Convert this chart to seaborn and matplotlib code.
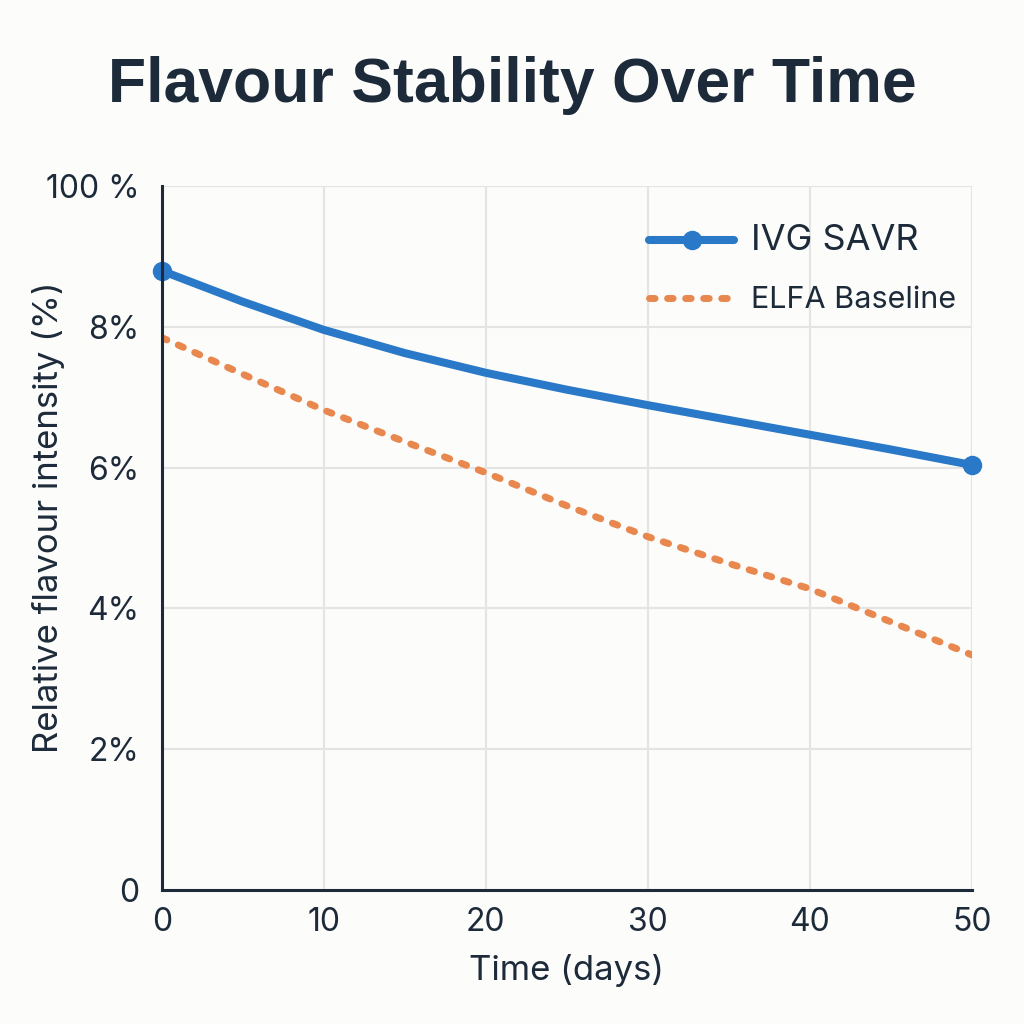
import matplotlib
matplotlib.use("Agg")
import matplotlib.pyplot as plt
import seaborn as sns

days = [0, 5, 10, 15, 20, 25, 30, 35, 40, 45, 50]
ivg_savr = [88.0, 83.6, 79.6, 76.3, 73.5, 71.1, 68.9, 66.8, 64.7, 62.6, 60.4]
elfa_baseline = [78.5, 73.3, 68.2, 63.7, 59.3, 54.6, 50.2, 46.4, 42.8, 38.1, 33.4]

y_ticks = [0, 20, 40, 60, 80, 100]
y_tick_labels = ["0", "2%", "4%", "6%", "8%", "100 %"]
x_ticks = [0, 10, 20, 30, 40, 50]

bg = "#fcfcfa"
ink = "#1c2a3a"
blue = "#2a78c8"
orange = "#e8884e"
dots = (0, (0.8, 1.8))

sns.set_theme(style="whitegrid")
plt.rcParams["font.family"] = ["Inter", "DejaVu Sans"]

fig = plt.figure(figsize=(10.24, 10.24), dpi=100, facecolor=bg)
ax = fig.add_axes([0.158, 0.131, 0.791, 0.687])
ax.set_facecolor(bg)

sns.lineplot(x=days, y=ivg_savr, ax=ax, color=blue, linewidth=5.8,
             marker="o", markersize=14, markevery=[0, len(days) - 1],
             markeredgewidth=0, label="IVG SAVR", clip_on=False,
             solid_capstyle="round", zorder=3)
sns.lineplot(x=days, y=elfa_baseline, ax=ax, color=orange, linewidth=5.0,
             label="ELFA Baseline", zorder=3)
ax.lines[1].set_linestyle(dots)
ax.lines[1].set_dash_capstyle("round")

ax.set_xlim(0, 50)
ax.set_ylim(0, 100)
ax.set_xticks(x_ticks)
ax.set_yticks(y_ticks)
ax.set_yticklabels(y_tick_labels)
ax.tick_params(axis="both", length=0, labelsize=23, labelcolor=ink)
ax.tick_params(axis="y", pad=16)
ax.tick_params(axis="x", pad=12)

ax.grid(True, color="#e4e4e4", linewidth=1.5)
for s in ["top", "right"]:
    ax.spines[s].set_visible(False)
for s in ["left", "bottom"]:
    ax.spines[s].set_color(ink)
    ax.spines[s].set_linewidth(2.2)
    ax.spines[s].set_zorder(4)

ax.set_xlabel("Time (days)", fontsize=25, color=ink, labelpad=12)
ax.set_ylabel("Relative flavour intensity (%)", fontsize=25, color=ink)
ax.yaxis.set_label_coords(-0.12, 0.53)

fig.suptitle("Flavour Stability Over Time", fontsize=45, fontweight="bold",
             color=ink, y=0.945, family=["Liberation Sans", "DejaVu Sans"])

leg = ax.legend(loc="upper right", bbox_to_anchor=(1.015, 0.985), frameon=False,
                fontsize=22, handlelength=2.8, labelspacing=0.95,
                handletextpad=0.55, labelcolor=ink)
leg.get_texts()[0].set_fontsize(26)
leg.get_lines()[1].set_linestyle(dots)
leg.get_lines()[1].set_dash_capstyle("round")

fig.savefig("out.png", dpi=100, facecolor=bg)
